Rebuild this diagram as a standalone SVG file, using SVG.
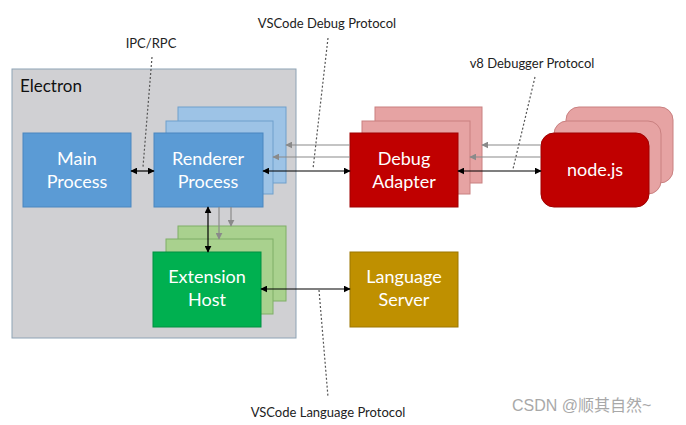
<svg xmlns="http://www.w3.org/2000/svg" width="686" height="425" viewBox="0 0 686 425">
<defs>
<style>
.lbl{font-family:Lato,"Open Sans","Liberation Sans",sans-serif;font-size:18px;fill:#ffffff;text-anchor:middle}
.ann{font-family:Lato,"Open Sans","Liberation Sans",sans-serif;font-size:13px;fill:#222222;text-anchor:middle}
.blue{fill:#5b9bd5;stroke:#4a86bf;stroke-width:1}
.blueb{fill:#9dc3e6;stroke:#6f9fcc;stroke-width:1}
.red{fill:#c00000;stroke:#a00000;stroke-width:1}
.redb{fill:#e6a3a3;stroke:#c98080;stroke-width:1}
.green{fill:#00b050;stroke:#009040;stroke-width:1}
.greenb{fill:#a9d18e;stroke:#7fae66;stroke-width:1}
.gold{fill:#bf9000;stroke:#9c7600;stroke-width:1}
.blk{stroke:#000;stroke-width:1.2;fill:none;marker-start:url(#ab);marker-end:url(#ab)}
.gry{stroke:#8a8a8a;stroke-width:1.2;fill:none;marker-end:url(#ag)}
.dot{stroke:#555;stroke-width:1.2;stroke-dasharray:2 2;fill:none}
</style>
<marker id="ab" viewBox="0 0 10 10" refX="9" refY="5" markerWidth="7" markerHeight="7" orient="auto-start-reverse" markerUnits="userSpaceOnUse"><path d="M0,0 L10,5 L0,10 z" fill="#000"/></marker>
<marker id="ag" viewBox="0 0 10 10" refX="9" refY="5" markerWidth="7" markerHeight="7" orient="auto" markerUnits="userSpaceOnUse"><path d="M0,0 L10,5 L0,10 z" fill="#8a8a8a"/></marker>
</defs>
<rect width="686" height="425" fill="#ffffff"/>

<g id="electron">
<rect x="12" y="69" width="284" height="269" fill="#d0d0d3" stroke="#8ea3b5" stroke-width="1"/>
<text x="20" y="92" style="font-family:Lato,'Open Sans','Liberation Sans',sans-serif;font-size:17px;fill:#111">Electron</text>
</g>

<g id="main-process">
<rect class="blue" x="23" y="133" width="108" height="74"/>
<text class="lbl" x="77" y="165">Main</text>
<text class="lbl" x="77" y="188">Process</text>
</g>

<g id="renderer-process">
<rect class="blueb" x="178" y="107" width="108" height="76"/>
<rect class="blueb" x="166" y="121" width="107" height="73"/>
<rect class="blue" x="154" y="133" width="109" height="74"/>
<text class="lbl" x="208" y="165">Renderer</text>
<text class="lbl" x="208" y="188">Process</text>
</g>

<g id="extension-host">
<rect class="greenb" x="178" y="226" width="108" height="75"/>
<rect class="greenb" x="166" y="239" width="107" height="75"/>
<rect class="green" x="153" y="252" width="108" height="75"/>
<text class="lbl" x="207" y="283">Extension</text>
<text class="lbl" x="207" y="306">Host</text>
</g>

<g id="debug-adapter">
<rect class="redb" x="375" y="107" width="107" height="76"/>
<rect class="redb" x="362" y="121" width="108" height="73"/>
<rect class="red" x="350" y="133" width="108" height="74"/>
<text class="lbl" x="404" y="165">Debug</text>
<text class="lbl" x="404" y="188">Adapter</text>
</g>

<g id="nodejs">
<rect class="redb" x="566" y="107" width="107" height="76" rx="13"/>
<rect class="redb" x="554" y="121" width="107" height="73" rx="13"/>
<rect class="red" x="541" y="133" width="108" height="74" rx="13"/>
<text class="lbl" x="595" y="176">node.js</text>
</g>

<g id="language-server">
<rect class="gold" x="350" y="252" width="108" height="75"/>
<text class="lbl" x="404" y="283">Language</text>
<text class="lbl" x="404" y="306">Server</text>
</g>

<g id="connectors">
<line class="blk" x1="131" y1="171" x2="154" y2="171"/>
<line class="blk" x1="263" y1="171" x2="350" y2="171"/>
<line class="blk" x1="458" y1="171" x2="541" y2="171"/>
<line class="blk" x1="208" y1="207" x2="208" y2="252"/>
<line class="blk" x1="261" y1="289" x2="350" y2="289"/>
<line class="gry" x1="350" y1="145" x2="286" y2="145"/>
<line class="gry" x1="350" y1="157" x2="273" y2="157"/>
<line class="gry" x1="541" y1="145" x2="482" y2="145"/>
<line class="gry" x1="541" y1="157" x2="470" y2="157"/>
<line class="gry" x1="219" y1="207" x2="219" y2="239"/>
<line class="gry" x1="231" y1="207" x2="231" y2="226"/>
<line class="dot" x1="152" y1="57" x2="143" y2="167"/>
<line class="dot" x1="328" y1="38" x2="313" y2="169"/>
<line class="dot" x1="535" y1="77" x2="513" y2="169"/>
<line class="dot" x1="319" y1="290" x2="328" y2="397"/>
</g>

<g id="labels">
<text class="ann" x="151" y="48">IPC/RPC</text>
<text class="ann" x="327" y="28">VSCode Debug Protocol</text>
<text class="ann" x="532" y="68">v8 Debugger Protocol</text>
<text class="ann" x="328" y="417">VSCode Language Protocol</text>
<text x="512" y="411" style="font-family:'Liberation Sans','Noto Sans CJK SC',sans-serif;font-size:16px;fill:#9a9a9a;opacity:0.85">CSDN @顺其自然~</text>
</g>
</svg>
